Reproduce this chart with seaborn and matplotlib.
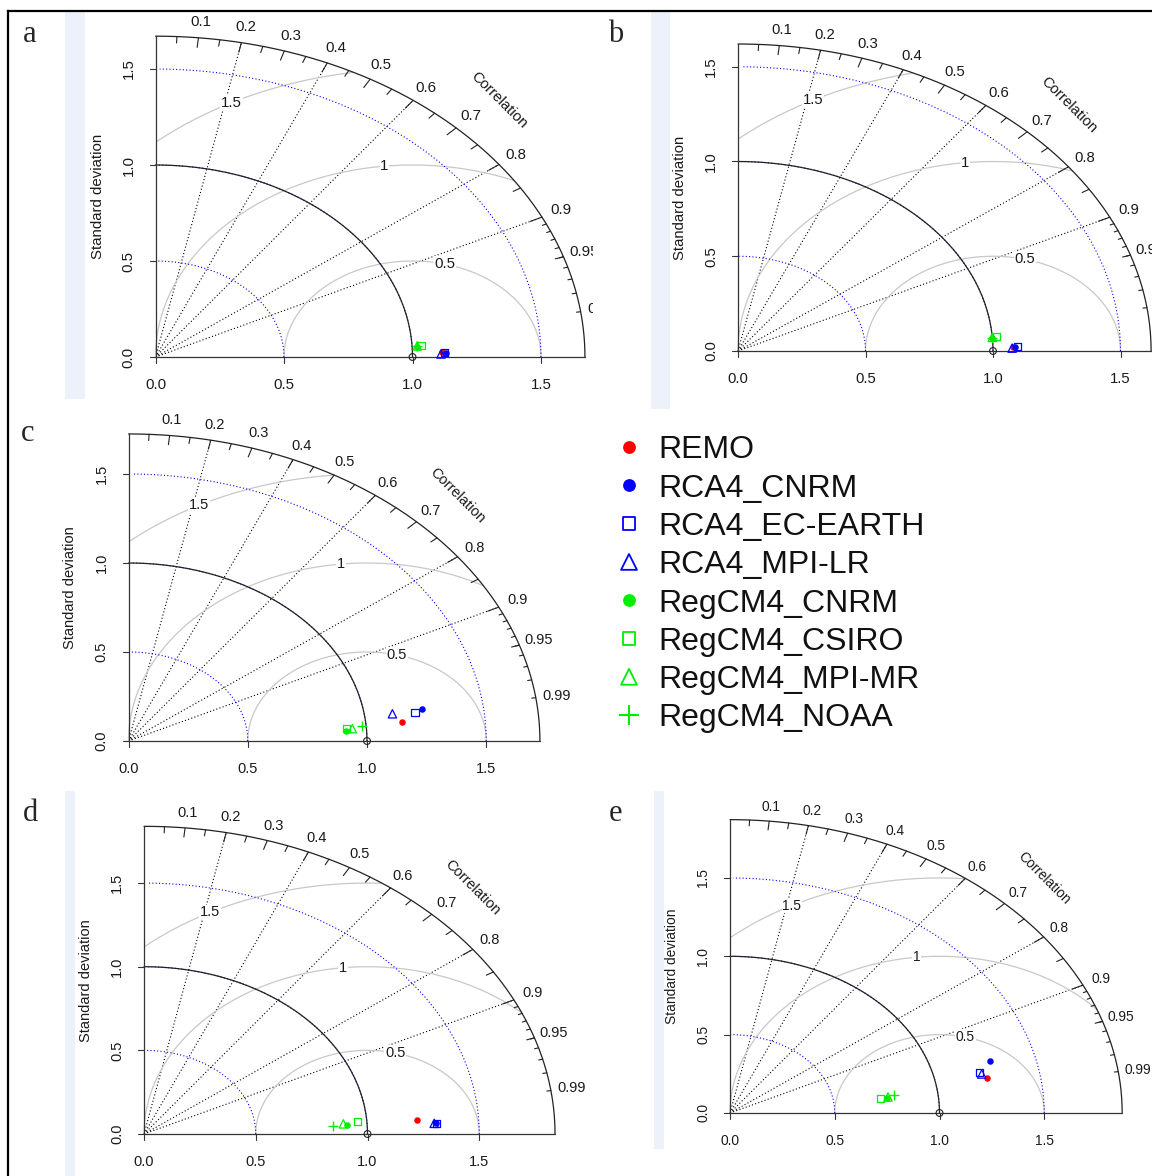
import numpy as np
import pandas as pd
import seaborn as sns
import matplotlib.pyplot as plt

sns.set_style("white")
plt.rcParams["font.family"] = ["Liberation Sans", "DejaVu Sans"]

# models, as in the legend
models = ["REMO", "RCA4_CNRM", "RCA4_EC-EARTH", "RCA4_MPI-LR",
          "RegCM4_CNRM", "RegCM4_CSIRO", "RegCM4_MPI-MR", "RegCM4_NOAA"]
model_colors = ["#ff0000", "#0000ff", "#0000ff", "#0000ff",
                "#00ee00", "#00ee00", "#00ee00", "#00ee00"]
model_markers = ["o", "o", "s", "^", "o", "s", "^", "+"]
model_filled = [True, True, False, False, True, False, False, True]

# normalised standard deviation and correlation for each panel
sd_a = [1.114, 1.130, 1.126, 1.111, 1.017, 1.035, 1.020, 1.020]
cor_a = [0.9997, 0.9998, 0.9998, 0.9999, 0.9986, 0.9982, 0.9984, 0.9984]

sd_b = [1.080, 1.088, 1.095, 1.075, 0.998, 1.018, 1.000, 0.998]
cor_b = [0.9998, 0.9998, 0.9998, 0.9999, 0.9976, 0.9970, 0.9974, 0.9976]

sd_c = [1.150, 1.245, 1.212, 1.117, 0.913, 0.918, 0.941, 0.984]
cor_c = [0.9957, 0.9894, 0.9911, 0.9906, 0.9981, 0.9970, 0.9973, 0.9962]

sd_d = [1.226, 1.307, 1.311, 1.300, 0.912, 0.957, 0.894, 0.848]
cor_d = [0.9976, 0.9988, 0.9988, 0.9988, 0.9981, 0.9968, 0.9977, 0.9984]

sd_e = [1.248, 1.285, 1.220, 1.227, 0.757, 0.725, 0.761, 0.792]
cor_e = [0.9836, 0.9656, 0.9776, 0.9792, 0.9922, 0.9916, 0.9910, 0.9898]

corr_labels = [0.1, 0.2, 0.3, 0.4, 0.5, 0.6, 0.7, 0.8, 0.9, 0.95, 0.99]
grad_lines = [0.2, 0.4, 0.6, 0.8, 0.9]
rms_levels = [0.5, 1.0, 1.5]
rms_text = ["0.5", "1", "1.5"]
sd_ticks = [0.0, 0.5, 1.0, 1.5]

W, H = 1152, 1176
fig = plt.figure(figsize=(W / 100, H / 100), dpi=100)
fig.patch.set_facecolor("white")

# background layer in pixel units: page strips, frame, panel letters, legend
bg = fig.add_axes([0, 0, 1, 1])
bg.set_xlim(0, W)
bg.set_ylim(H, 0)
bg.axis("off")
for x0, x1, y0, y1 in [(65, 85, 12, 399), (651, 670, 12, 409),
                       (65, 75, 791, 1176), (654, 664, 791, 1149)]:
    bg.fill_between([x0, x1], [y0, y0], [y1, y1], color="#edf2fa", lw=0)
bg.plot([8, 8], [H, 11], color="black", lw=1.6, solid_capstyle="projecting")
bg.plot([8, W], [11, 11], color="black", lw=1.6, solid_capstyle="projecting")

for letter, lx, ly in [("a", 30, 42), ("b", 616, 42), ("c", 28, 441),
                       ("d", 30, 821), ("e", 615, 821)]:
    bg.text(lx, ly, letter, fontsize=22, family=["Liberation Serif", "DejaVu Serif"],
            ha="center", va="baseline")

# legend
leg_sizes = {"o": 85, "s": 80, "^": 130, "+": 220}
for i, (m, c, mk, filled) in enumerate(zip(models, model_colors, model_markers, model_filled)):
    row = 447 + i * 38.3
    kw = dict(color=c, marker=mk, s=leg_sizes[mk], ax=bg, legend=False, clip_on=False)
    if mk == "+":
        kw.update(linewidth=1.5)
    elif filled:
        kw.update(edgecolor=c, linewidth=0)
    else:
        kw.update(facecolor="none", edgecolor=c, linewidth=1.3)
    sns.scatterplot(x=[629], y=[row], **kw)
    bg.text(658, row + 11.4, m, fontsize=23, ha="left", va="baseline", color="#111111")

panels = [
    dict(sd=sd_a, cor=cor_a, ox=155.5, oy=357, sx=257, sy=192, rect=(86, 12, 593, 399), fs=10.8),
    dict(sd=sd_b, cor=cor_b, ox=738, oy=351, sx=255, sy=189.5, rect=(672, 12, 1152, 409), fs=10.7),
    dict(sd=sd_c, cor=cor_c, ox=128.5, oy=741, sx=238.5, sy=178, rect=(20, 400, 600, 785), fs=10.5),
    dict(sd=sd_d, cor=cor_d, ox=144, oy=1134, sx=223.5, sy=167.3, rect=(78, 790, 640, 1176), fs=10.5),
    dict(sd=sd_e, cor=cor_e, ox=730, oy=1113, sx=209.5, sy=156.7, rect=(666, 790, 1152, 1176), fs=9.9),
]

dot = (0, (1, 2))
ink = "#1a1a1a"

for p in panels:
    L, T, R, B = p["rect"]
    ax = fig.add_axes([L / W, 1 - B / H, (R - L) / W, (B - T) / H])
    ax.set_xlim((L - p["ox"]) / p["sx"], (R - p["ox"]) / p["sx"])
    ax.set_ylim((p["oy"] - B) / p["sy"], (p["oy"] - T) / p["sy"])
    ax.axis("off")
    fs = p["fs"]
    px, py = 1 / p["sx"], 1 / p["sy"]

    sd = np.array(p["sd"])
    cor = np.array(p["cor"])
    ms = 1.5 * sd[0]

    # correlation rays
    for g in grad_lines:
        ax.plot([0, ms * g], [0, ms * np.sqrt(1 - g * g)], color="black", lw=0.8, ls=dot)

    # centred RMS difference arcs
    t = np.linspace(0, np.pi, 600)
    for gam, txt, ang in zip(rms_levels, rms_text, [1.32, 1.68, 2.06]):
        xc = 1 + gam * np.cos(t)
        yc = gam * np.sin(t)
        keep = (xc >= 0) & (xc ** 2 + yc ** 2 <= ms ** 2)
        ax.plot(xc[keep], yc[keep], color="#c8c8c8", lw=0.9)
        ax.text(1 + gam * np.cos(ang), gam * np.sin(ang), txt, fontsize=fs, color=ink,
                ha="center", va="center", clip_on=True,
                bbox=dict(facecolor="white", edgecolor="none", pad=0.5))

    # standard deviation arcs
    q = np.arange(0, np.pi / 2, 0.03)
    for s in sd_ticks[1:]:
        ax.plot(s * np.cos(q), s * np.sin(q), color="blue", lw=0.8, ls=dot)
    q2 = np.linspace(0, np.pi / 2, 300)
    ax.plot(np.cos(q2), np.sin(q2), color="#222222", lw=0.9)
    ax.plot(ms * np.cos(q2), ms * np.sin(q2), color="#222222", lw=0.9)

    # axes
    ax.plot([0, ms], [0, 0], color="#333333", lw=0.9)
    ax.plot([0, 0], [0, ms], color="#333333", lw=0.9)
    for v in sd_ticks:
        ax.plot([v, v], [0, -6 * py], color="#333333", lw=0.8, clip_on=False)
        ax.plot([0, -6 * px], [v, v], color="#333333", lw=0.8, clip_on=False)
        ax.text(v, -28 * py, f"{v:.1f}", fontsize=fs, color=ink, ha="center", va="center")
        ax.text(-27 * px, v, f"{v:.1f}", fontsize=fs, color=ink, ha="center", va="center",
                rotation=90)
    ax.text(-58 * px, ms / 2, "Standard deviation", fontsize=fs, color=ink,
            ha="center", va="center", rotation=90)

    # correlation ticks on the outer arc
    for vals, f in [(np.arange(1, 10) / 10, 0.97),
                    (np.arange(0.05, 1.0, 0.1), 0.98),
                    (np.arange(0.91, 0.995, 0.01), 0.99)]:
        for c in vals:
            s = np.sqrt(1 - c * c)
            ax.plot([c * ms, c * ms * f], [s * ms, s * ms * f], color="#222222", lw=0.8)
    for c in corr_labels:
        s = np.sqrt(1 - c * c)
        ax.text(1.05 * ms * c, 1.05 * ms * s, f"{c:g}", fontsize=fs, color=ink,
                ha="center", va="center", clip_on=True)
    ax.text(0.8 * ms, 0.8 * ms, "Correlation", fontsize=fs, color=ink, rotation=-45,
            rotation_mode="anchor", ha="center", va="center", clip_on=True)

    # reference point
    ax.scatter([1.0], [0.0], s=24, facecolor="none", edgecolor="#222222", lw=0.8, zorder=4)

    # model points
    df = pd.DataFrame({"model": models, "x": sd * cor, "y": sd * np.sqrt(1 - cor ** 2)})
    pt_sizes = {"o": 22, "s": 26, "^": 36, "+": 45}
    for m, c, mk, filled in zip(models, model_colors, model_markers, model_filled):
        kw = dict(color=c, marker=mk, s=pt_sizes[mk], ax=ax, legend=False, zorder=5)
        if mk == "+":
            kw.update(linewidth=1.0)
        elif filled:
            kw.update(edgecolor=c, linewidth=0)
        else:
            kw.update(facecolor="none", edgecolor=c, linewidth=0.9)
        sns.scatterplot(data=df[df["model"] == m], x="x", y="y", **kw)

fig.savefig("out.png", dpi=100, facecolor="white")
